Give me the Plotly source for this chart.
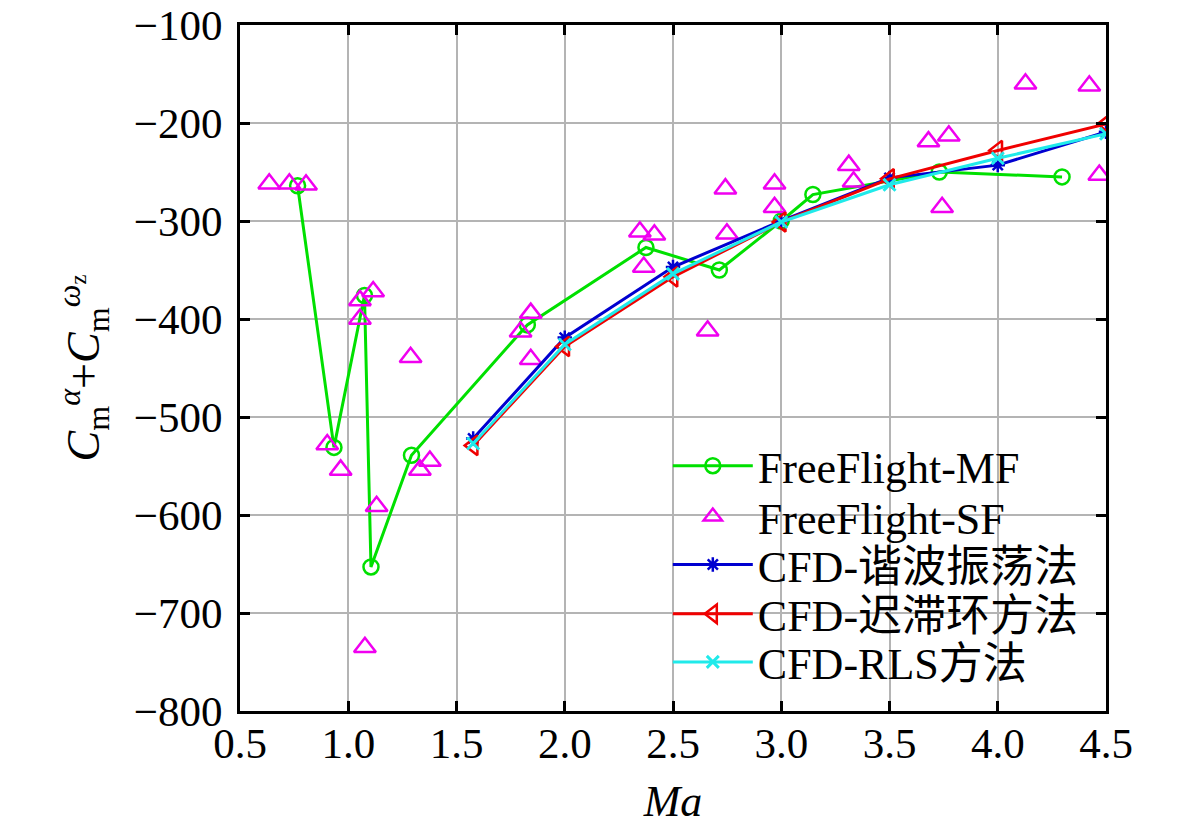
import plotly.graph_objs as go

# FreeFlight-MF
mf_ma = [0.766, 0.934, 1.075, 1.105, 1.292, 1.827, 2.375, 2.714, 3.0, 3.146, 3.73, 4.297]
mf_cm = [-264, -531, -376, -653, -539, -406, -327, -350, -300, -273, -250, -255]

# FreeFlight-SF
sf_ma = [0.635, 0.728, 0.805, 0.903, 0.965, 1.054, 1.115, 1.054, 1.077, 1.131,
         1.288, 1.331, 1.377, 1.796, 1.843, 1.843, 2.347, 2.414, 2.365, 2.66,
         2.742, 2.749, 2.969, 2.969, 3.312, 3.334, 3.68, 3.774, 3.743, 4.128,
         4.423, 4.469]
sf_cm = [-262, -262, -263, -528, -554, -381, -372, -400, -735, -591,
         -439, -554, -545, -413, -394, -441, -311, -314, -347, -412,
         -267, -313, -262, -286, -243, -260, -219, -213, -286, -160,
         -162, -253]

# CFD
cfd_ma = [1.577, 2.0, 2.5, 3.0, 3.5, 4.0, 4.5]
harmonic_cm = [-522, -419, -347, -300, -256, -243, -209]
hysteresis_cm = [-529, -428, -357, -301, -257, -228, -201]
rls_cm = [-527, -426, -354, -301, -263, -236, -211]

x_ticks = [0.5, 1.0, 1.5, 2.0, 2.5, 3.0, 3.5, 4.0, 4.5]
y_ticks = [-800, -700, -600, -500, -400, -300, -200, -100]

font_family = "Liberation Serif, Times New Roman, Noto Sans CJK SC, serif"

fig = go.Figure()
fig.add_trace(go.Scatter(x=mf_ma, y=mf_cm, name="FreeFlight-MF", mode="lines+markers",
                         legend="legend", showlegend=True,
                         line=dict(color="#00e000", width=3),
                         marker=dict(symbol="circle-open", size=15, color="#00e000",
                                     line=dict(width=2.5))))
fig.add_trace(go.Scatter(x=sf_ma, y=sf_cm, name="FreeFlight-SF", mode="markers",
                         legend="legend2", showlegend=True,
                         marker=dict(symbol="triangle-up-open", size=19, color="#f000f0",
                                     line=dict(width=2.5))))
fig.add_trace(go.Scatter(x=cfd_ma, y=harmonic_cm, name="CFD-谐波振荡法", mode="lines+markers",
                         legend="legend3", showlegend=True,
                         line=dict(color="#0000d0", width=3),
                         marker=dict(symbol="asterisk-open", size=12, color="#0000d0",
                                     line=dict(width=2.5))))
fig.add_trace(go.Scatter(x=cfd_ma, y=hysteresis_cm, name="CFD-迟滞环方法", mode="lines+markers",
                         legend="legend4", showlegend=True,
                         line=dict(color="#f00000", width=3),
                         marker=dict(symbol="triangle-left-open", size=17, color="#f00000",
                                     line=dict(width=2.5))))
fig.add_trace(go.Scatter(x=cfd_ma, y=rls_cm, name="CFD-RLS方法", mode="lines+markers",
                         legend="legend5", showlegend=True,
                         line=dict(color="#20eaea", width=3),
                         marker=dict(symbol="x-thin-open", size=12, color="#20eaea",
                                     line=dict(width=3))))

axis_style = dict(showline=True, linecolor="black", linewidth=3, mirror="ticks",
                  ticks="inside", ticklen=10, tickwidth=3, tickcolor="black",
                  showgrid=True, gridcolor="#b4b4b4", gridwidth=1.5, zeroline=False,
                  automargin=False, ticklabeloverflow="allow",
                  tickfont=dict(family=font_family, size=43, color="black"))

fig.update_xaxes(range=[0.5, 4.5], tickvals=x_ticks, tickformat=".1f",
                 title=dict(text="<i>Ma</i>", font=dict(family=font_family, size=44, color="black"),
                            standoff=20),
                 ticklabelstandoff=-8, **axis_style)
fig.update_yaxes(range=[-800, -100], tickvals=y_ticks,
                 title=dict(text="<i>C</i><sub>m</sub><sup><i>α</i></sup>+<i>C</i><sub>m</sub><sup><i>ω</i><sub>z</sub></sup>",
                            font=dict(family=font_family, size=46, color="black"),
                            standoff=20),
                 ticklabelstandoff=6, **axis_style)

# white panel behind the legend entries (covers the grid there)
fig.add_shape(type="rect", xref="paper", yref="paper", x0=0.478, x1=1.0, y0=0.016, y1=0.39,
              fillcolor="white", line=dict(width=0), layer="between")

legend_style = dict(x=0.494, xanchor="left", yanchor="middle", bgcolor="rgba(0,0,0,0)",
                    borderwidth=0, itemwidth=80,
                    font=dict(family=font_family, size=44, color="black"))
legend_rows = [0.357, 0.283, 0.213, 0.141, 0.071]

fig.update_layout(width=1181, height=832, plot_bgcolor="white", paper_bgcolor="white",
                  margin=dict(l=232, r=83, t=17, b=129), showlegend=True,
                  font=dict(family=font_family, color="black"),
                  legend=dict(y=legend_rows[0], **legend_style),
                  legend2=dict(y=legend_rows[1], **legend_style),
                  legend3=dict(y=legend_rows[2], **legend_style),
                  legend4=dict(y=legend_rows[3], **legend_style),
                  legend5=dict(y=legend_rows[4], **legend_style))

fig.write_html("out.html")
